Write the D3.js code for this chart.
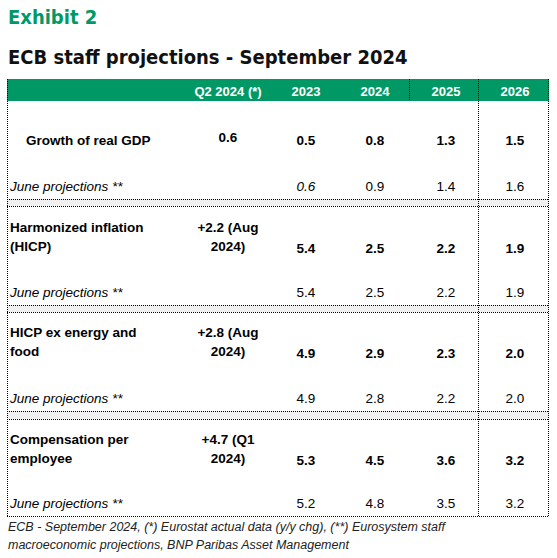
<!DOCTYPE html>
<html><head><meta charset="utf-8">
<script src="https://cdn.jsdelivr.net/npm/d3@7"></script>
<style>body{margin:0;background:#fff}</style>
</head><body>
<svg id="c" width="557" height="558"></svg>
<script>
var columns = ["Q2 2024 (*)", "2023", "2024", "2025", "2026"];
var indicators = [["Growth of real GDP"], ["Harmonized inflation", "(HICP)"], ["HICP ex energy and", "food"], ["Compensation per", "employee"]];
var actual = [["0.6"], ["+2.2 (Aug", "2024)"], ["+2.8 (Aug", "2024)"], ["+4.7 (Q1", "2024)"]];
var september = [["0.5", "0.8", "1.3", "1.5"], ["5.4", "2.5", "2.2", "1.9"], ["4.9", "2.9", "2.3", "2.0"], ["5.3", "4.5", "3.6", "3.2"]];
var june = [["0.6", "0.9", "1.4", "1.6"], ["5.4", "2.5", "2.2", "1.9"], ["4.9", "2.8", "2.2", "2.0"], ["5.2", "4.8", "3.5", "3.2"]];

var svg = d3.select("#c");
var font = "Liberation Sans, Arial, sans-serif";
var green = "#009966";

svg.append("text").attr("x", 8).attr("y", 24).attr("fill", green)
  .attr("font-family", "DejaVu Sans Condensed, sans-serif").attr("font-weight", "bold").attr("font-size", 20).text("Exhibit 2");
svg.append("text").attr("x", 8).attr("y", 64).attr("fill", "#111")
  .attr("font-family", "DejaVu Sans Condensed, sans-serif").attr("font-weight", "bold").attr("font-size", 20).text("ECB staff projections - September 2024");

var colX = d3.scalePoint().domain(columns).range([228, 515]);
colX = function(c){ return {"Q2 2024 (*)":228,"2023":306,"2024":375,"2025":446,"2026":515}[c]; };

// section layout: top of each section
var secTop = [101, 206, 312, 419];
var secBottom = [199, 305, 411, 516];

svg.append("rect").attr("x", 7).attr("y", 79).attr("width", 542).attr("height", 22).attr("fill", green);
svg.selectAll(".hd").data(columns).enter().append("text")
  .attr("x", colX).attr("y", 96).attr("text-anchor", "middle")
  .attr("fill", "#fff").attr("font-family", font).attr("font-weight", "bold").attr("font-size", 13)
  .text(function(d){ return d; });

// gray separator bands
svg.selectAll(".gb").data([0, 1, 2]).enter().append("rect")
  .attr("x", 7).attr("y", function(i){ return secBottom[i]; })
  .attr("width", 542).attr("height", function(i){ return secTop[i + 1] - secBottom[i]; })
  .attr("fill", "#f0f0f0");

function dotted(x1, y1, x2, y2) {
  svg.append("line").attr("x1", x1).attr("y1", y1).attr("x2", x2).attr("y2", y2)
    .attr("stroke", "#000").attr("stroke-width", 1).attr("stroke-dasharray", "1,1");
}
dotted(7.5, 79, 7.5, 516);
dotted(548.5, 79, 548.5, 516);
dotted(478.5, 79, 478.5, 516);
dotted(409.5, 79, 409.5, 101);
secBottom.forEach(function(y){ dotted(7, y + 0.5, 549, y + 0.5); });
secTop.slice(1).forEach(function(y){ dotted(7, y + 0.5, 549, y + 0.5); });

var boldY = [145, 253, 358, 465];
var years = columns.slice(1);
indicators.forEach(function(lines, i) {
  var g = svg.append("g").attr("font-family", font).attr("font-size", 13.5).attr("fill", "#000");
  var one = lines.length === 1;
  g.selectAll(".lb").data(lines).enter().append("text")
    .attr("x", one ? 26 : 10).attr("y", function(d, k){ return one ? boldY[i] : boldY[i] - 21 + k * 19; })
    .attr("font-weight", "bold").text(function(d){ return d; });
  g.selectAll(".ac").data(actual[i]).enter().append("text")
    .attr("x", 228).attr("y", function(d, k){ return actual[i].length === 1 ? boldY[i] - 3 : boldY[i] - 21 + k * 19; })
    .attr("text-anchor", "middle").attr("font-weight", "bold").text(function(d){ return d; });
  g.selectAll(".sv").data(september[i]).enter().append("text")
    .attr("x", function(d, k){ return colX(years[k]); }).attr("y", boldY[i])
    .attr("text-anchor", "middle").attr("font-weight", "bold").text(function(d){ return d; });
  var jy = secBottom[i] - 8;
  g.append("text").attr("x", 10).attr("y", jy).attr("font-style", "italic").text("June projections **");
  g.selectAll(".jv").data(june[i]).enter().append("text")
    .attr("x", function(d, k){ return colX(years[k]); }).attr("y", jy)
    .attr("font-style", function(d, k){ return i === 0 && k === 0 ? "italic" : "normal"; })
    .attr("text-anchor", "middle").text(function(d){ return d; });
});

var foot = ["ECB - September 2024, (*) Eurostat actual data (y/y chg), (**) Eurosystem staff", "macroeconomic projections, BNP Paribas Asset Management"];
svg.selectAll(".ft").data(foot).enter().append("text")
  .attr("x", 8).attr("y", function(d, k){ return 531 + k * 18; })
  .attr("font-family", font).attr("font-style", "italic").attr("font-size", 12.5).attr("fill", "#222")
  .text(function(d){ return d; });
</script>
</body></html>
